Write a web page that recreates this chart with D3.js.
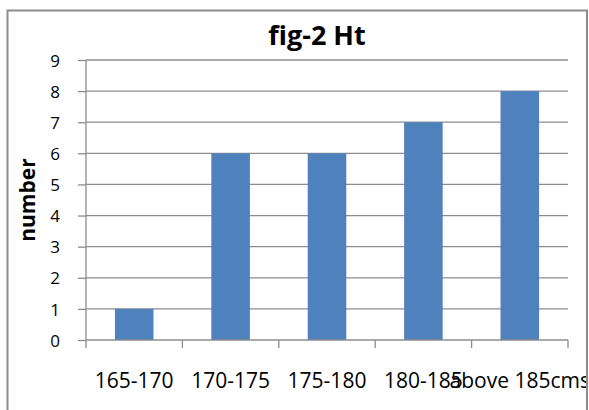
<!DOCTYPE html>
<html><head><meta charset="utf-8">
<script src="https://cdn.jsdelivr.net/npm/d3@7"></script>
<style>html,body{margin:0;padding:0;background:#fff;}svg{display:block;}</style>
</head><body>
<script>
const categories = ["165-170", "170-175", "175-180", "180-185", "above 185cms"];
const values = [1, 6, 6, 7, 8];
const yTicks = [0, 1, 2, 3, 4, 5, 6, 7, 8, 9];
const title = "fig-2 Ht";
const yLabel = "number";

const W = 589, H = 410;
const svg = d3.select("body").append("svg").attr("width", W).attr("height", H);
const font = "'Open Sans', sans-serif";

svg.append("defs").append("clipPath").attr("id", "clip")
  .append("rect").attr("x", 8).attr("y", 11).attr("width", 578).attr("height", 420);

const g = svg.append("g").attr("clip-path", "url(#clip)");

const x = d3.scaleBand().domain(categories).range([86, 568]).paddingInner(0.6).paddingOuter(0.3);
const xb = d3.scaleBand().domain(categories).range([86, 568]);
const y = d3.scaleLinear().domain([0, 9]).range([340, 60]);

// gridlines
g.append("g").selectAll("line").data(yTicks.filter(d => d > 0)).join("line")
  .attr("x1", 86).attr("x2", 568)
  .attr("y1", d => y(d)).attr("y2", d => y(d))
  .attr("stroke", "#8c8c8c").attr("stroke-width", 1.3);

// bars
g.append("g").selectAll("rect").data(values).join("rect")
  .attr("x", (d, i) => xb(categories[i]) + xb.bandwidth() / 2 - xb.bandwidth() * 0.2)
  .attr("width", xb.bandwidth() * 0.4)
  .attr("y", d => y(d))
  .attr("height", d => y(0) - y(d))
  .attr("fill", "#4F81BD");

// y axis
const ya = g.append("g").attr("transform", "translate(86,0)")
  .call(d3.axisLeft(y).tickValues(yTicks).tickSize(8).tickPadding(18).tickFormat(d3.format("d")));
ya.select(".domain").attr("stroke", "#8c8c8c").attr("stroke-width", 1.3).attr("d", "M0,60V340");
ya.selectAll(".tick line").attr("stroke", "#8c8c8c").attr("stroke-width", 1.3);
ya.selectAll(".tick text").attr("font-family", font).attr("font-size", 17).attr("fill", "#000").attr("dy", "0.36em");

// x axis
const xa = g.append("g").attr("transform", "translate(0,340)")
  .call(d3.axisBottom(xb).tickSize(0).tickPadding(0));
xa.select(".domain").attr("stroke", "#8c8c8c").attr("stroke-width", 1.3).attr("d", "M86,0H568");
xa.selectAll(".tick text").attr("font-family", font).attr("font-size", 21).attr("fill", "#000")
  .attr("y", 48).attr("dy", 0);
// x tick marks at band boundaries
const bounds = categories.map(c => xb(c)).concat([xb(categories[categories.length - 1]) + xb.bandwidth()]);
g.append("g").selectAll("line").data(bounds).join("line")
  .attr("x1", d => d).attr("x2", d => d).attr("y1", 340).attr("y2", 348)
  .attr("stroke", "#8c8c8c").attr("stroke-width", 1.3);

// title
svg.append("text").attr("x", 317).attr("y", 45).attr("text-anchor", "middle")
  .attr("font-family", font).attr("font-weight", "bold").attr("font-size", 27).text(title);

// y label
svg.append("text").attr("transform", "translate(35,200) rotate(-90)").attr("text-anchor", "middle")
  .attr("font-family", font).attr("font-weight", "bold").attr("font-size", 21).text(yLabel);

// outer border
svg.append("path").attr("d", "M7.5,420V10.5H587V420")
  .attr("fill", "none").attr("stroke", "#8c8c8c").attr("stroke-width", 2);
</script>
</body></html>
